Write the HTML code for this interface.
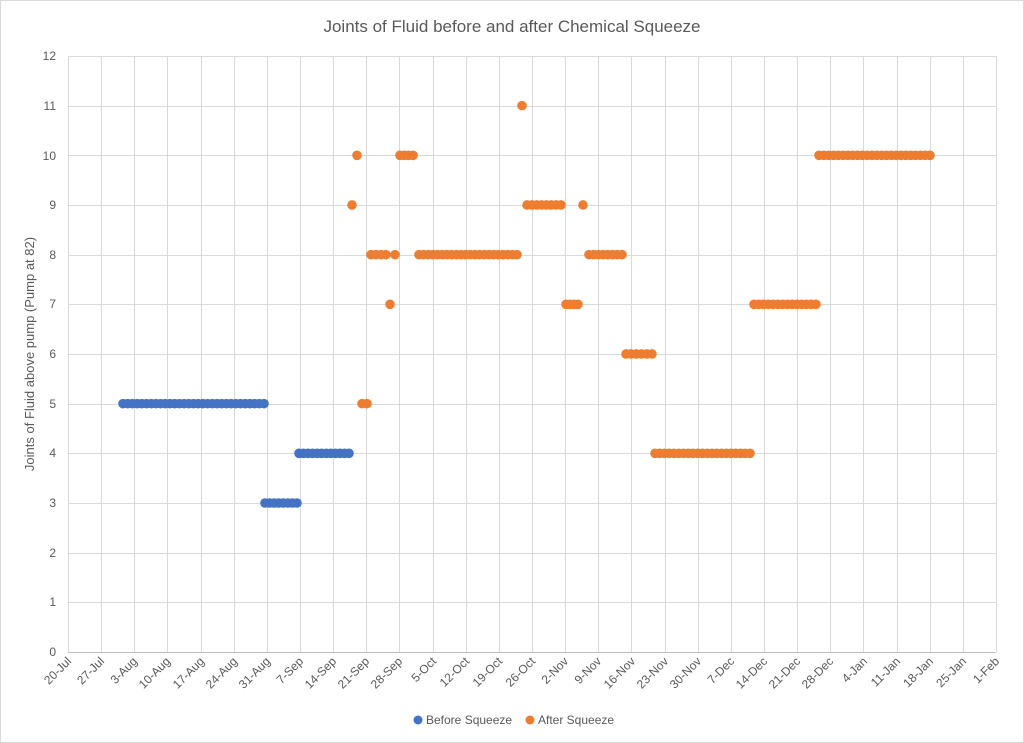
<!DOCTYPE html>
<html><head><meta charset="utf-8"><style>
body{margin:0;background:#fff}
svg{display:block;font-family:"Liberation Sans",sans-serif}
</style></head><body>
<svg id="c" width="1024" height="743" viewBox="0 0 1024 743">
<rect x="0.5" y="0.5" width="1023" height="742" fill="#fff" stroke="#d9d9d9"/>
<text x="512" y="32" text-anchor="middle" font-size="17" fill="#595959">Joints of Fluid before and after Chemical Squeeze</text>
<g id="grid" stroke="#d9d9d9" stroke-width="1"></g>
<g font-size="12" fill="#595959" text-anchor="end">
<text x="56" y="656">0</text><text x="56" y="606">1</text><text x="56" y="557">2</text><text x="56" y="507">3</text><text x="56" y="457">4</text><text x="56" y="408">5</text><text x="56" y="358">6</text><text x="56" y="308">7</text><text x="56" y="259">8</text><text x="56" y="209">9</text><text x="56" y="160">10</text><text x="56" y="110">11</text><text x="56" y="60">12</text>
</g>
<text transform="translate(34,354) rotate(-90)" text-anchor="middle" font-size="13" fill="#595959">Joints of Fluid above pump (Pump at 82)</text>
<g font-size="12" fill="#595959" text-anchor="end">
<text transform="translate(72,662) rotate(-45)">20-Jul</text>
<text transform="translate(105,662) rotate(-45)">27-Jul</text>
<text transform="translate(138,662) rotate(-45)">3-Aug</text>
<text transform="translate(171,662) rotate(-45)">10-Aug</text>
<text transform="translate(205,662) rotate(-45)">17-Aug</text>
<text transform="translate(238,662) rotate(-45)">24-Aug</text>
<text transform="translate(271,662) rotate(-45)">31-Aug</text>
<text transform="translate(304,662) rotate(-45)">7-Sep</text>
<text transform="translate(337,662) rotate(-45)">14-Sep</text>
<text transform="translate(370,662) rotate(-45)">21-Sep</text>
<text transform="translate(403,662) rotate(-45)">28-Sep</text>
<text transform="translate(437,662) rotate(-45)">5-Oct</text>
<text transform="translate(470,662) rotate(-45)">12-Oct</text>
<text transform="translate(503,662) rotate(-45)">19-Oct</text>
<text transform="translate(536,662) rotate(-45)">26-Oct</text>
<text transform="translate(569,662) rotate(-45)">2-Nov</text>
<text transform="translate(602,662) rotate(-45)">9-Nov</text>
<text transform="translate(636,662) rotate(-45)">16-Nov</text>
<text transform="translate(669,662) rotate(-45)">23-Nov</text>
<text transform="translate(702,662) rotate(-45)">30-Nov</text>
<text transform="translate(735,662) rotate(-45)">7-Dec</text>
<text transform="translate(768,662) rotate(-45)">14-Dec</text>
<text transform="translate(801,662) rotate(-45)">21-Dec</text>
<text transform="translate(834,662) rotate(-45)">28-Dec</text>
<text transform="translate(868,662) rotate(-45)">4-Jan</text>
<text transform="translate(901,662) rotate(-45)">11-Jan</text>
<text transform="translate(934,662) rotate(-45)">18-Jan</text>
<text transform="translate(967,662) rotate(-45)">25-Jan</text>
<text transform="translate(1000,662) rotate(-45)">1-Feb</text>
</g>
<g id="dots"></g>
<circle cx="418" cy="720" r="4.5" fill="#4472c4"/>
<text x="426" y="724" font-size="12" fill="#595959">Before Squeeze</text>
<circle cx="530" cy="720" r="4.5" fill="#ed7d31"/>
<text x="538" y="724" font-size="12" fill="#595959">After Squeeze</text>
</svg>
<script>
var ns="http://www.w3.org/2000/svg",g=document.getElementById('grid'),d=document.getElementById('dots');
function ln(x1,y1,x2,y2,c){var l=document.createElementNS(ns,'line');l.setAttribute('x1',x1);l.setAttribute('y1',y1);l.setAttribute('x2',x2);l.setAttribute('y2',y2);if(c)l.setAttribute('stroke',c);g.appendChild(l);}
for(var i=0;i<=28;i++){var x=Math.round(68+33.14*i)+.5;ln(x,56,x,652);}
for(var j=1;j<=12;j++){var y=Math.round(652-49.67*j)+.5;ln(68,y,996,y);}
ln(68,652.5,996,652.5,'#bfbfbf');
function Y(v){return 652-49.67*v;}
var B='#4472c4',O='#ed7d31';
var segs=[[123,264,5,B],[265,297,3,B],[299,349,4,B],
[352,352,9,O],[357,357,10,O],[362,367,5,O],[371,386,8,O],[395,395,8,O],[390,390,7,O],[400,413,10,O],[419,517,8,O],[522,522,11,O],[527,561,9,O],[566,578,7,O],[583,583,9,O],[589,622,8,O],[626,652,6,O],[655,750,4,O],[754,816,7,O],[819,930,10,O]];
segs.forEach(function(s){var n=Math.max(0,Math.round((s[1]-s[0])/4.73));for(var k=0;k<=n;k++){var x=n?s[0]+(s[1]-s[0])*k/n:s[0];var c=document.createElementNS(ns,'circle');c.setAttribute('cx',x);c.setAttribute('cy',Y(s[2]));c.setAttribute('r',4.8);c.setAttribute('fill',s[3]);d.appendChild(c);}});
</script>
</body></html>
